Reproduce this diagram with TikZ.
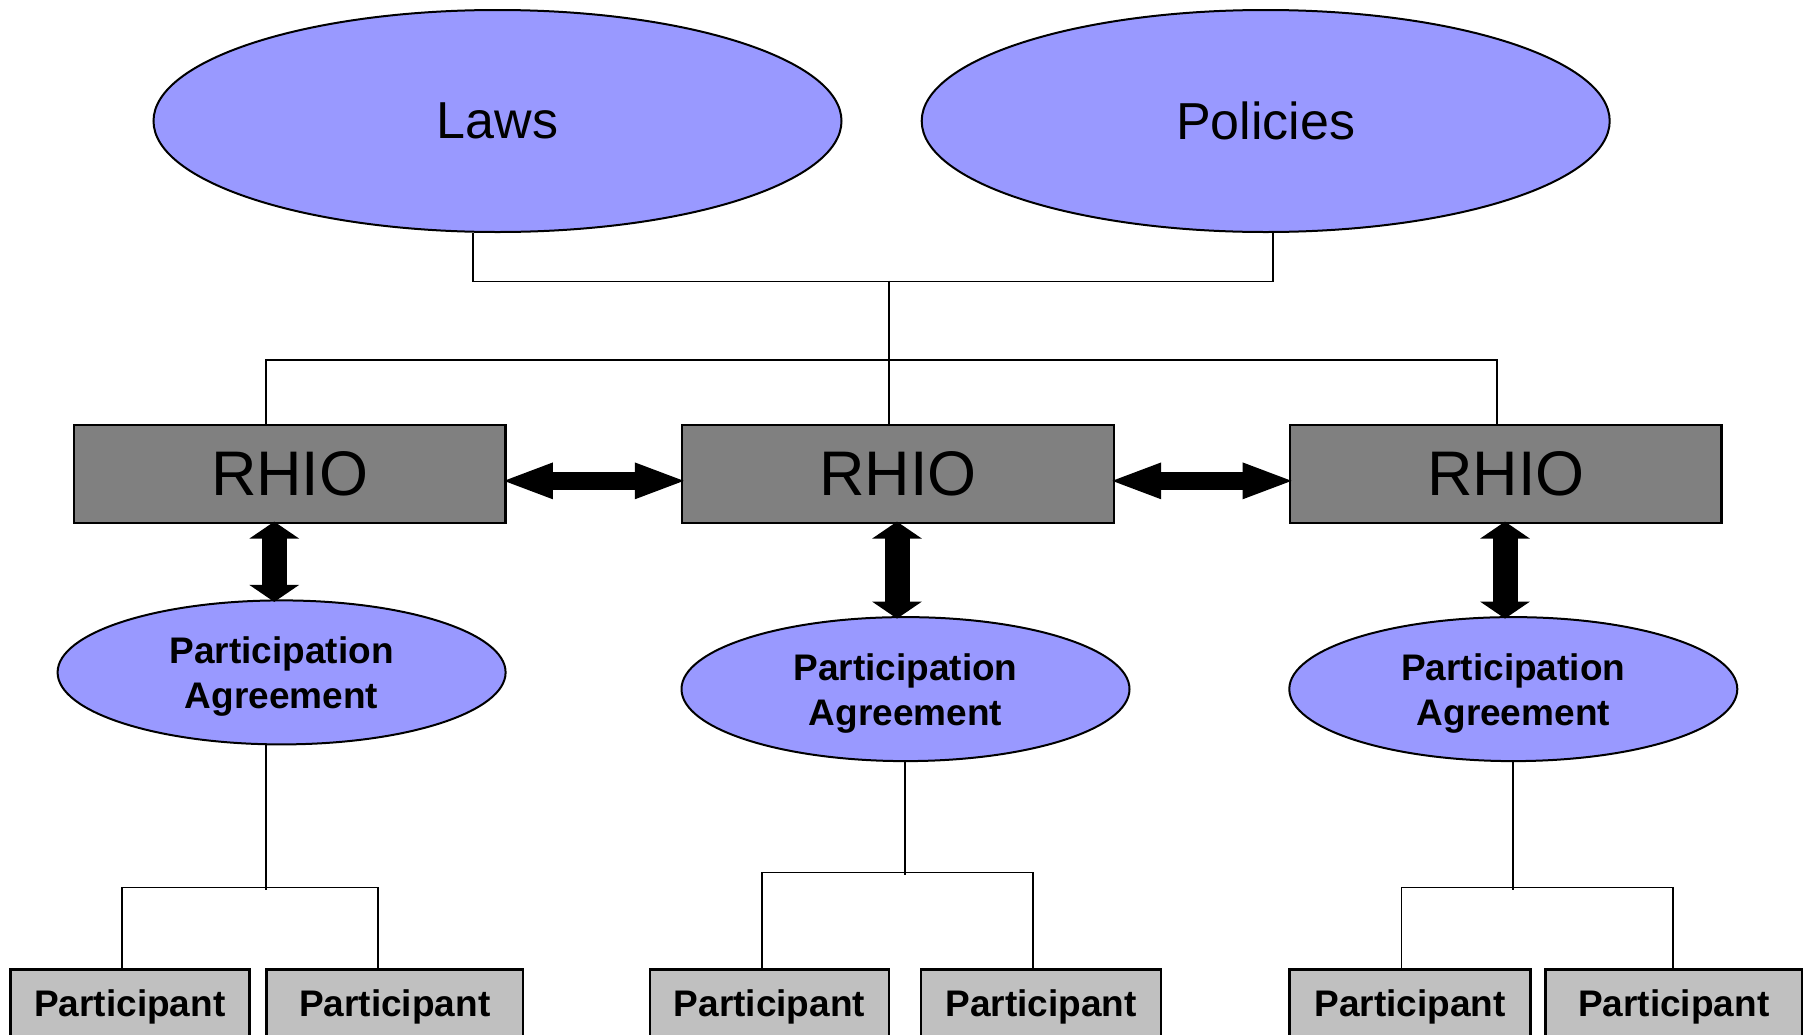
\documentclass[tikz,border=0pt]{standalone}
\usepackage{fontspec}
\setmainfont{Liberation Sans}
\usetikzlibrary{shapes.geometric,arrows.meta,calc}
\definecolor{ellblue}{HTML}{9999FF}
\definecolor{rhiogray}{HTML}{808080}
\definecolor{partgray}{HTML}{C0C0C0}
\newcommand{\patext}{\raisebox{-5pt}[\height][\depth]{\begin{tabular}{@{}c@{}}Participation\\Agreement\end{tabular}}}
\begin{document}
\begin{tikzpicture}[x=1pt,y=-1pt,
  bigell/.style={ellipse, draw, line width=2pt, fill=ellblue, minimum width=688pt, minimum height=222pt, inner sep=0pt, font=\fontsize{52}{60}\selectfont},
  rhiobox/.style={rectangle, draw, line width=2.5pt, fill=rhiogray, minimum width=431.7pt, minimum height=98pt, inner sep=0pt, font=\fontsize{63}{70}\selectfont},
  paell/.style={ellipse, draw, line width=2pt, fill=ellblue, minimum width=448pt, minimum height=144pt, inner sep=0pt, font=\bfseries\fontsize{37}{45}\selectfont},
  partbox/.style={rectangle, draw, line width=2.5pt, fill=partgray, minimum height=74pt, inner sep=0pt, font=\bfseries\fontsize{37}{45}\selectfont},
  conn/.style={draw, line width=1.8pt},
  harrow/.style={line width=18pt, shorten <=-7pt, shorten >=-7pt, {Triangle[length=53pt,width=32pt]}-{Triangle[length=53pt,width=32pt]}},
  varrow/.style={line width=25pt, shorten <=-2.5pt, shorten >=-2.5pt, {Triangle[length=17pt,width=49pt]}-{Triangle[length=17pt,width=49pt]}}
]
\fill[white] (0,0) rectangle (1810,1034);
\useasboundingbox (0,0) rectangle (1810,1034);

% top ellipses
\node[bigell] (laws) at (497.5,121) {Laws};
\node[bigell] (pol) at (1265.7,121) {Policies};

% RHIO boxes
\node[rhiobox] (r1) at (289.75,473.85) {RHIO};
\node[rhiobox] (r2) at (898,473.85) {RHIO};
\node[rhiobox] (r3) at (1505.8,473.85) {RHIO};

% participation agreements
\node[paell] (pa1) at (281.6,672.4) {\patext};
\node[paell] (pa2) at (905.5,689.1) {\patext};
\node[paell] (pa3) at (1513.3,689.1) {\patext};

% participants
\node[partbox, minimum width=238.9pt] (p1) at (129.85,1006.5) {Participant};
\node[partbox, minimum width=256.3pt] (p2) at (394.75,1006.5) {Participant};
\node[partbox, minimum width=238.9pt] (p3) at (769.35,1006.5) {Participant};
\node[partbox, minimum width=240.1pt] (p4) at (1041.15,1006.5) {Participant};
\node[partbox, minimum width=241.2pt] (p5) at (1410,1006.5) {Participant};
\node[partbox, minimum width=256.3pt] (p6) at (1673.75,1006.5) {Participant};

% laws/policies to RHIOs
\coordinate (j1) at (889,280.5);
\draw[conn] ($(laws.south)+(-24.5,0)$) -- ++(0,48.5) -| ($(pol.south)+(7.3,0)$);
\draw[conn] (j1) -- ($(r2.north)+(-9,0)$);
\draw[conn] ($(r1.north)+(-24,0)$) -- ++(0,-63.5) -| ($(r3.north)+(-8.8,0)$);

% horizontal double arrows
\draw[harrow] ($(r1.east)+(0,7)$) -- ($(r2.west)+(0,7)$);
\draw[harrow] ($(r2.east)+(0,7)$) -- ($(r3.west)+(0,7)$);

% vertical double arrows
\draw[varrow] ($(r1.south)+(-15.5,0)$) coordinate (v1) -- (v1 |- pa1.north);
\draw[varrow] ($(r2.south)+(-1,0)$) coordinate (v2) -- (v2 |- pa2.north);
\draw[varrow] ($(r3.south)+(-0.8,0)$) coordinate (v3) -- (v3 |- pa3.north);

% agreements to participants
\draw[conn] ($(pa1.south)+(-16,0)$) -- ++(0,144.4);
\draw[conn] ($(p1.north)+(-7.65,0)$) -- ++(0,-80.7) -| ($(p2.north)+(-16.95,0)$);
\draw[conn] ($(pa2.south)+(-0.5,0)$) -- ++(0,113.1);
\draw[conn] ($(p3.north)+(-7.5,0)$) -- ++(0,-95.7) -| ($(p4.north)+(-7.9,0)$);
\draw[conn] ($(pa3.south)+(0,0)$) -- ++(0,128.1);
\draw[conn] ($(p5.north)+(-8.5,0)$) -- ++(0,-80.7) -| ($(p6.north)+(-0.75,0)$);
\end{tikzpicture}
\end{document}
